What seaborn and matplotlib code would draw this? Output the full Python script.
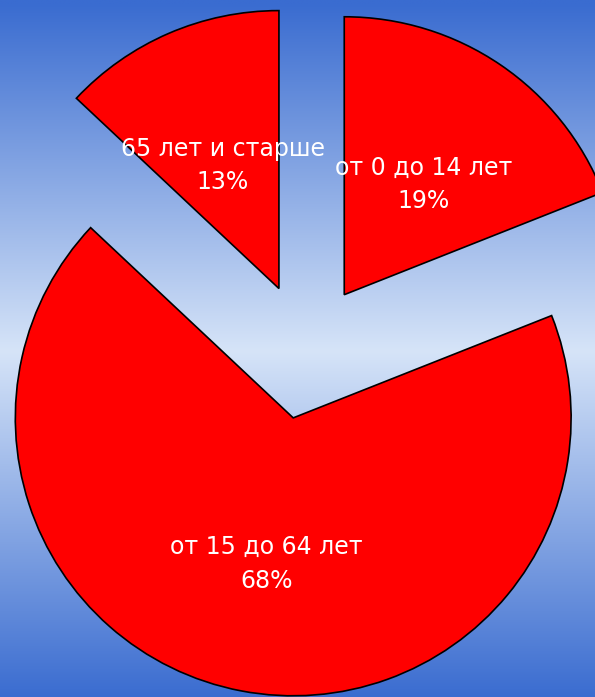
import numpy as np
import matplotlib
matplotlib.use("Agg")
import matplotlib.pyplot as plt
import seaborn as sns

sns.set_theme(style="white")
plt.rcParams['font.family'] = ['DejaVu Sans']

# Data
categories = ["от 0 до 14 лет", "от 15 до 64 лет", "65 лет и старше"]
shares = [19, 68, 13]

explode = [0.245, 0.245, 0.245]
slice_color = "#ff0000"

fig = plt.figure(figsize=(5.95, 6.97), dpi=100)
ax = fig.add_axes([0, 0, 1, 1])

xlim = (-1.101, 1.040)
ylim = (-1.245, 1.263)

# background vertical gradient (light in middle, blue at top/bottom)
ny = 400
yy = np.linspace(ylim[1], ylim[0], ny)
t = np.clip(np.abs(yy - 0.0) / 1.25, 0, 1)
light = np.array([214, 228, 248]) / 255
dark = np.array([58, 108, 208]) / 255
cols = light[None, :] * (1 - t[:, None]) + dark[None, :] * t[:, None]
img = np.repeat(cols[:, None, :], 10, axis=1)
ax.imshow(img, extent=[xlim[0], xlim[1], ylim[0], ylim[1]], aspect='auto',
          zorder=0, interpolation='bilinear')

labels_iter = iter(categories)

def fmt(p):
    return f"{next(labels_iter)}\n{p:.0f}%"

wedges, texts, autotexts = ax.pie(
    shares, explode=explode, startangle=90, counterclock=False,
    colors=[slice_color] * 3, autopct=fmt, pctdistance=0.51,
    wedgeprops=dict(edgecolor="black", linewidth=1.2),
    textprops=dict(color="white", fontsize=17),
)
for at in autotexts:
    at.set_linespacing(1.5)
    at.set_zorder(5)
    x, y = at.get_position()
    at.set_position((x, y - 0.025))

ax.set_xlim(*xlim)
ax.set_ylim(*ylim)
ax.set_aspect('equal', adjustable='box')
ax.axis('off')

fig.savefig("out.png", dpi=100)
